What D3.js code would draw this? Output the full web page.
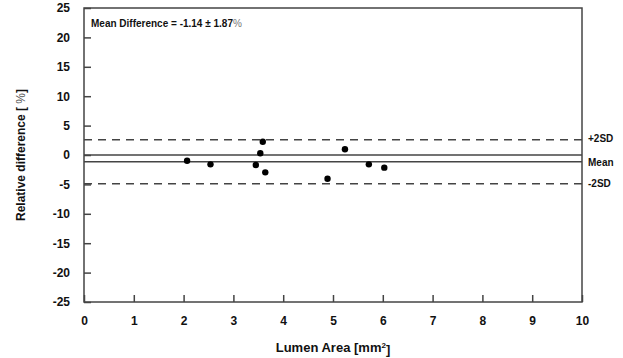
<html>
  <head>
    <meta charset="utf-8">
    <style>
body { margin: 0; background: #fff; }
text { font-family: Arial, "Liberation Sans", sans-serif; font-weight: bold; fill: #111; }
.axis path, .axis line { stroke: #444; stroke-width: 1.5; }
    </style>
  </head>
  <body>
    <svg width="623" height="358"></svg>
    <script src="https://d3js.org/d3.v7.min.js"></script>
    <script>

// data
var lumenArea = [2.07, 2.54, 3.59, 3.54, 3.45, 3.64, 4.89, 5.24, 5.72, 6.03];
var relDiff   = [-0.97, -1.59, 2.26, 0.29, -1.70, -2.95, -4.03, 0.97, -1.59, -2.15];
var meanDiff = -1.14, sdDiff = 1.87;
var xTicks = [0, 1, 2, 3, 4, 5, 6, 7, 8, 9, 10];
var yTicks = [25, 20, 15, 10, 5, 0, -5, -10, -15, -20, -25];

var svg = d3.select("svg"),
    margin = {top: 8, right: 41, bottom: 56, left: 84},
    width = +svg.attr("width") - margin.left - margin.right,
    height = +svg.attr("height") - margin.top - margin.bottom;

var x = d3.scaleLinear().domain([0, 10]).range([0, width]),
    y = d3.scaleLinear().domain([-25, 25]).range([height, 0]);

var g = svg.append("g")
  .attr("transform", "translate(" + margin.left + "," + margin.top + ")");

// frame
g.append("rect")
  .attr("width", width).attr("height", height)
  .attr("fill", "none").attr("stroke", "#444").attr("stroke-width", 1.5);

var xAxis = g.append("g")
  .attr("class", "axis")
  .attr("transform", "translate(0," + height + ")")
  .call(d3.axisBottom(x).tickValues(xTicks).tickFormat(String)
    .tickSizeInner(-7).tickSizeOuter(0).tickPadding(14));
xAxis.selectAll("text").style("font-size", "12px");
xAxis.select(".domain").remove();

var yAxis = g.append("g")
  .attr("class", "axis")
  .call(d3.axisLeft(y).tickValues(yTicks).tickFormat(String)
    .tickSizeInner(-7).tickSizeOuter(0).tickPadding(14));
yAxis.selectAll("text").style("font-size", "12px");
yAxis.select(".domain").remove();

// zero and mean lines
[0, meanDiff].forEach(function(v) {
  g.append("line")
    .attr("x1", 0).attr("x2", width)
    .attr("y1", y(v)).attr("y2", y(v))
    .attr("stroke", "#444").attr("stroke-width", 1.5);
});

// limits of agreement
[meanDiff + 2 * sdDiff, meanDiff - 2 * sdDiff].forEach(function(v) {
  g.append("line")
    .attr("x1", 0).attr("x2", width)
    .attr("y1", y(v)).attr("y2", y(v))
    .attr("stroke", "#444").attr("stroke-width", 1.5)
    .attr("stroke-dasharray", "8,6");
});

// points
g.selectAll(".dot")
  .data(lumenArea)
  .enter().append("circle")
  .attr("class", "dot")
  .attr("cx", function(d) { return x(d); })
  .attr("cy", function(d, i) { return y(relDiff[i]); })
  .attr("r", 3.2)
  .attr("fill", "#000");

// right side labels
var sideLabels = [["+2SD", meanDiff + 2 * sdDiff, -1], ["Mean", meanDiff, 1], ["-2SD", meanDiff - 2 * sdDiff, 0]];
sideLabels.forEach(function(s) {
  g.append("text")
    .attr("x", width + 6)
    .attr("y", y(s[1]) + s[2])
    .attr("dy", "0.35em")
    .style("font-size", "10px")
    .text(s[0]);
});

// annotation
var ann = g.append("text")
  .attr("x", 7).attr("y", 15)
  .attr("dy", "0.35em")
  .style("font-size", "10px")
  .text("Mean Difference = " + meanDiff.toFixed(2) + " \u00b1 " + sdDiff.toFixed(2));
ann.append("tspan").style("font-weight", "normal").style("fill", "#777").text("%");

// x axis label
var xl = svg.append("text")
  .attr("x", margin.left + width / 2)
  .attr("y", 347)
  .attr("dy", "0.35em")
  .style("text-anchor", "middle")
  .style("font-size", "13px")
  .text("Lumen Area [mm");
xl.append("tspan").attr("dy", "-0.4em").style("font-size", "8px").text("2");
xl.append("tspan").attr("dy", "0.4em").text("]");

// y axis label
var yl = svg.append("text")
  .attr("transform", "rotate(-90)")
  .attr("x", -(margin.top + height / 2))
  .attr("y", 21)
  .attr("dy", "0.35em")
  .style("text-anchor", "middle")
  .style("font-size", "12px")
  .text("Relative difference [ ");
yl.append("tspan").style("font-weight", "normal").style("fill", "#555").text("%");
yl.append("tspan").text("]");

    </script>
  </body>
</html>
